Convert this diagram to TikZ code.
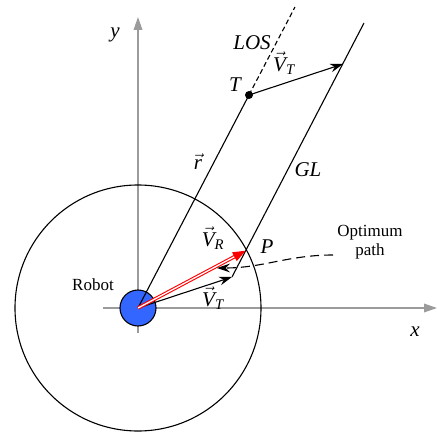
\documentclass[tikz,border=0pt]{standalone}
\usepackage{amsmath}
\usepackage{fontspec}
\setmainfont{Liberation Serif}
\usepackage{tikz}
\usetikzlibrary{arrows.meta,calc}
\definecolor{axisgrey}{RGB}{155,155,155}
\definecolor{robotblue}{RGB}{51,102,255}
\definecolor{vecred}{RGB}{255,0,0}
\newcommand{\vlab}[2]{$\vec{\textit{#1}}_{\textit{#2}}$}
\tikzset{
  axis/.style={draw=axisgrey,line width=1.4pt,-{Triangle[length=4.5mm,width=3mm]}},
  ln/.style={draw=black,line width=1.1pt},
  vec/.style={ln,-{Stealth[length=4.5mm,width=3mm]}},
  rvec/.style={draw=vecred,double=white,double distance=1.3pt,line width=1.1pt,
               -{Triangle[length=4.5mm,width=3.4mm,fill=vecred]}},
  robotdot/.style={circle,draw=black,line width=1.1pt,fill=robotblue,
                   minimum size=36pt,inner sep=0pt},
  tdot/.style={circle,fill=black,minimum size=8pt,inner sep=0pt},
  lbl/.style={font=\fontsize{21}{23}\selectfont\itshape,inner sep=1pt},
  txt/.style={font=\fontsize{17}{19}\selectfont,inner sep=1pt,align=center},
}

\begin{document}
\begin{tikzpicture}[x=1pt,y=1pt]
  \useasboundingbox (-138,-124) rectangle (299,308);

  % axes
  \coordinate (O) at (0,0);
  \coordinate (xstart) at (-35,0);
  \coordinate (xend) at (299,0);
  \coordinate (ystart) at (0,-25);
  \coordinate (yend) at (0,291);
  \draw[axis] (xstart) -- (xend);
  \draw[axis] (ystart) -- (yend);

  % range circle and robot
  \draw[ln] (O) circle[radius=123];
  \node[robotdot] (robot) at (O) {};

  % target, line of sight, guidance line
  \coordinate (vt) at (94,31);
  \node[tdot] (T) at (111,213) {};
  \coordinate (Tvt) at ($(T)+(vt)$);
  \coordinate (lostop) at (157,301);
  \coordinate (gltop) at (226,285);
  \coordinate (P) at (107.7,57.3);
  \draw[ln] (O) -- (T.center);
  \draw[ln,dashed,dash pattern=on 5pt off 3pt] (T.center) -- (lostop);
  \draw[ln] (vt) -- (gltop);
  \draw[vec] (T.center) -- (Tvt);
  \draw[vec] (O) -- (vt);
  \draw[rvec] (O) -- (P);

  % optimum path
  \coordinate (optstart) at (195,53);
  \coordinate (opttip) at (79,40);
  \draw[ln,dashed,dash pattern=on 9pt off 5pt,-{Stealth[length=4.5mm,width=3mm]}]
    (optstart) .. controls (150,53) and (125,40) .. (opttip);

  % labels
  \node[lbl] (ylab) at (-23,273) {y};
  \node[lbl] (xlab) at (277,-24) {x};
  \node[lbl] (loslab) at (114,265) {LOS};
  \node[lbl] (tlab) at (97,223) {T};
  \node[lbl] (vttop) at (146,245) {\vlab{V}{T}};
  \node[lbl] (rlab) at (60,146) {$\vec{\textit{r}}$};
  \node[lbl] (gllab) at (170,138) {GL};
  \node[lbl] (vrlab) at (75,70) {\vlab{V}{R}};
  \node[lbl] (plab) at (129,61) {P};
  \node[lbl] (vtbot) at (75,10) {\vlab{V}{T}};
  \node[txt] (robotlab) at (-45,23) {Robot};
  \node[txt] (optlab) at (232,66) {Optimum\\path};
\end{tikzpicture}
\end{document}
